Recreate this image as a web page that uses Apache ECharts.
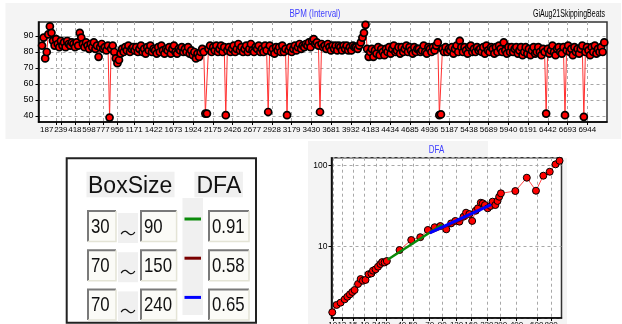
<!DOCTYPE html>
<html><head><meta charset="utf-8">
<script src="https://cdn.jsdelivr.net/npm/echarts@6/dist/echarts.min.js"></script>
<style>html,body{margin:0;padding:0;background:#fff}#c{width:622px;height:324px}</style>
</head><body><div id="c"></div>
<script>
// ---------- data ----------
const bpmStep = 20; // beats between samples
const bpmValues = [
84,89,76,80,91,96,92,87,84,88,85,83,87,84,86,83,87,85,84,86,
85,83,86,84,92,89,85,83,86,84,82,85,83,86,82,84,77,83,85,82,
83,81,84,39,82,84,80,76,73,75,79,82,80,83,81,84,80,82,83,81,
83,80,82,84,80,82,79,83,81,84,80,82,81,79,83,80,84,81,79,82,
81,83,79,82,84,80,79,82,81,83,80,82,80,83,79,81,78,80,76,79,
77,80,82,80,41.5,41.5,82,84,80,83,81,84,80,82,84,80,83,40.5,81,83,
80,82,84,80,82,85,81,83,80,82,84,80,82,85,81,80,83,82,84,80,
82,80,84,81,42.5,84,80,82,79,83,81,83,80,84,80,82,40.5,81,83,80,
82,84,81,83,85,82,84,83,85,84,86,83,87,88,85,86,84,42.5,85,83,
84,82,85,83,81,84,82,84,81,84,83,81,84,82,84,81,83,81,84,83,
83,82,84,86,89,92,97,82,77,80,82,77,81,79,83,78,82,80,78,82,
80,83,79,82,84,80,81,83,79,83,80,82,84,80,83,81,79,83,80,82,
82,80,81,84,80,79,83,82,80,83,81,84,86,40.5,41,82,80,83,80,82,
81,83,79,82,84,80,87,83,80,83,81,79,83,84,80,82,80,83,81,82,
80,83,79,84,81,80,83,82,79,83,80,84,82,80,86,81,79,83,80,83,
80,82,83,79,81,83,78,80,83,79,82,78,81,83,79,80,83,80,78,82,
80,41.5,82,79,81,84,80,78,82,83,80,79,83,40.5,81,84,80,82,78,83,
80,82,79,82,84,39.5,80,83,81,78,83,80,84,79,82,80,83,80,86
];
const bpmTickLabels = [187,239,418,598,777,956,1171,1422,1673,1924,2175,2426,2677,2928,3179,3430,3681,3932,4183,4434,4685,4936,5187,5438,5689,5940,6191,6442,6693,6944];
const bpmYTicks = [40,50,60,70,80,90];

const dfaBoxSizes = [9.9,10.8,11.7,12.7,13.4,14.1,14.8,15.5,16.6,17.5,18.3,19.3,20.5,21.7,22.4,23.6,24.8,26.0,27.0,28.3,29.6,38.2,48.3,57.9,67.4,77.3,86.6,97.6,107.5,117,127,138,145,155,164,176,184,195,203,212,224,237,247,261,273,282,292,390,491,590,684,778,874,947];
const dfaValues = [1.55,1.91,2.04,2.24,2.41,2.58,2.76,2.92,3.47,3.99,3.80,3.89,4.57,4.68,5.06,5.26,5.67,6.11,6.47,6.40,6.66,9.1,12.1,13.1,16.1,17.4,18.0,16.4,19.4,20.8,20.4,23.5,26.3,25.3,20.8,27.8,29.8,34.9,34.3,32.7,29.8,31.8,36.0,32.7,36.7,41.4,45.6,48.7,71.1,49.1,75.3,84.3,104,115];
const dfaTicks = [10,12,15,19,24,29,40,50,70,90,120,160,220,290,400,600,800];

const fitRanges = [[30,90],[70,150],[70,240]];
const fitSlopes = ['0.91','0.58','0.65'];
const fitLines = [[[30,6.9],[90,18.8]], [[70,14.8],[150,23.0]], [[70,14.8],[240,33.0]]];
const fitColors = ['#0a8a0a','#7a0000','#0000ff'];

// ---------- styling ----------
const SANS = "'Liberation Sans',Arial,sans-serif";
const gridLine = {show:true, lineStyle:{color:'#a8a8a8', type:[3,3], width:1}};
const axisLineStyle = {show:true, onZero:false, lineStyle:{color:'#000', width:1.5}};

// ---------- graphics ----------
const g = [];
g.push({type:'rect', z:-5, shape:{x:5.5,y:3,width:615.5,height:136}, style:{fill:'#f4f4f4'}, silent:true});
g.push({type:'rect', z:-5, shape:{x:308,y:141,width:180,height:17}, style:{fill:'#f4f4f4'}, silent:true});
g.push({type:'rect', z:-5, shape:{x:308,y:158,width:259,height:166}, style:{fill:'#f4f4f4'}, silent:true});
g.push({type:'text', x:315, y:14, scaleX:0.76, style:{text:'BPM (Interval)', fill:'#3c3cff', fontSize:10.5, fontFamily:SANS, align:'center', verticalAlign:'middle'}});
g.push({type:'text', x:605, y:14, scaleX:0.7, style:{text:'GiAug21SkippingBeats', fill:'#000', fontSize:10, fontFamily:SANS, align:'right', verticalAlign:'middle'}});
g.push({type:'text', x:436.5, y:150, scaleX:0.72, style:{text:'DFA', fill:'#3c3cff', fontSize:11, fontFamily:SANS, align:'center', verticalAlign:'middle'}});

// table panel
g.push({type:'rect', shape:{x:66.7,y:158.3,width:189.3,height:164.5}, style:{fill:'#fff', stroke:'#222', lineWidth:2}});
g.push({type:'rect', shape:{x:86.5,y:171.7,width:88,height:25.6}, style:{fill:'#f0f0f0'}});
g.push({type:'rect', shape:{x:194.4,y:171.7,width:48.5,height:25.6}, style:{fill:'#f0f0f0'}});
g.push({type:'rect', shape:{x:182.5,y:198,width:20.5,height:117}, style:{fill:'#f0f0f0'}});
g.push({type:'text', x:88, y:186.5, style:{text:'BoxSize', fill:'#111', fontSize:23, fontFamily:SANS, align:'left', verticalAlign:'middle'}});
g.push({type:'text', x:196.5, y:186.5, style:{text:'DFA', fill:'#111', fontSize:23, fontFamily:SANS, align:'left', verticalAlign:'middle'}});

function editBox(x, y, w, h, text) {
  g.push({type:'rect', shape:{x:x,y:y,width:w,height:h}, style:{fill:'#fbfbf7'}});
  g.push({type:'polyline', shape:{points:[[x,y+h],[x,y],[x+w,y]]}, style:{stroke:'#7a7a7a', lineWidth:2, fill:null}});
  g.push({type:'polyline', shape:{points:[[x+w,y],[x+w,y+h],[x,y+h]]}, style:{stroke:'#e4e4d6', lineWidth:1.5, fill:null}});
  g.push({type:'text', x:x+3, y:y+h/2+1, scaleX:0.8, style:{text:text, fill:'#111', fontSize:21, fontFamily:SANS, align:'left', verticalAlign:'middle'}});
}
fitRanges.forEach((rg, r) => {
  const top = 211 + r*39.2, h = 30.5;
  editBox(88, top, 28, h, String(rg[0]));
  g.push({type:'rect', shape:{x:118,y:top+2,width:20,height:30}, style:{fill:'#f0f0f0'}});
  g.push({type:'text', x:128, y:top+22, style:{text:'～', fill:'#111', fontSize:16, fontFamily:"'Noto Sans CJK JP',sans-serif", align:'center', verticalAlign:'middle'}});
  editBox(141, top, 35.6, h, String(rg[1]));
  g.push({type:'rect', shape:{x:184.5,y:top+6.5,width:16.5,height:3}, style:{fill:fitColors[r]}});
  editBox(209, top, 40, h, fitSlopes[r]);
});

// ---------- chart ----------
const chart = echarts.init(document.getElementById('c'), null, {renderer:'canvas'});
const fitSeries = fitLines.map((ln, i) => ({
  type:'line', xAxisIndex:1, yAxisIndex:1, data:ln, symbol:'none', z:4,
  lineStyle:{color:fitColors[i], width:i===2?3:2.5}, silent:true
}));
chart.setOption({
  animation:false,
  graphic:{elements:g},
  grid:[
    {left:38.5, top:22, width:568.5, height:100, show:true, backgroundColor:'#fff', borderColor:'#333', borderWidth:1.5, outerBoundsMode:'none', containLabel:false},
    {left:331.5, top:157.7, width:230, height:160.3, show:true, backgroundColor:'#fff', borderColor:'#333', borderWidth:1.5, outerBoundsMode:'none', containLabel:false}
  ],
  xAxis:[
    {type:'value', gridIndex:0, min:-45, max:7195,
     axisLine:axisLineStyle,
     axisTick:{show:true, customValues:bpmTickLabels, length:3, lineStyle:{color:'#000'}},
     axisLabel:{customValues:bpmTickLabels, fontSize:8, fontFamily:SANS, color:'#000', margin:4,
       showMinLabel:true, showMaxLabel:true, hideOverlap:false,
       formatter:v => v===187 ? '{s|187}' : String(v),
       rich:{s:{padding:[0,20,0,0], fontSize:8, fontFamily:SANS, color:'#000'}}},
     splitLine:gridLine},
    {type:'log', gridIndex:1, min:9.75, max:985, logBase:10,
     axisLine:axisLineStyle,
     axisTick:{show:true, customValues:dfaTicks, length:3, lineStyle:{color:'#000'}},
     axisLabel:{customValues:dfaTicks, fontSize:8, fontFamily:SANS, color:'#000', margin:3,
       showMinLabel:true, showMaxLabel:true, hideOverlap:false},
     splitLine:gridLine}
  ],
  yAxis:[
    {type:'value', gridIndex:0, min:36.25, max:98.75,
     axisLine:axisLineStyle,
     axisTick:{show:true, customValues:bpmYTicks, length:3, lineStyle:{color:'#000'}},
     axisLabel:{customValues:bpmYTicks, fontSize:9, fontFamily:SANS, color:'#000', margin:5},
     splitLine:gridLine},
    {type:'log', gridIndex:1, min:1.318, max:125.6, logBase:10,
     axisLine:axisLineStyle,
     axisTick:{show:true, length:3, lineStyle:{color:'#000'}},
     axisLabel:{fontSize:8.5, fontFamily:SANS, color:'#000', margin:4, showMinLabel:false, showMaxLabel:false},
     splitLine:gridLine}
  ],
  series:[
    {type:'line', xAxisIndex:0, yAxisIndex:0, data:bpmValues.map((v,i)=>[i*bpmStep, v]),
     symbol:'circle', symbolSize:7, showAllSymbol:true, silent:true,
     lineStyle:{color:'#ff3030', width:1},
     itemStyle:{color:'#ff0000', borderColor:'#000', borderWidth:1.7}},
    {type:'line', xAxisIndex:1, yAxisIndex:1, data:dfaBoxSizes.map((n,i)=>[n, dfaValues[i]]),
     symbol:'circle', symbolSize:7, showAllSymbol:true, silent:true, z:3,
     lineStyle:{color:'#ff4a4a', width:1},
     itemStyle:{color:'#ff0000', borderColor:'#000', borderWidth:1}},
    ...fitSeries
  ]
});
</script></body></html>
